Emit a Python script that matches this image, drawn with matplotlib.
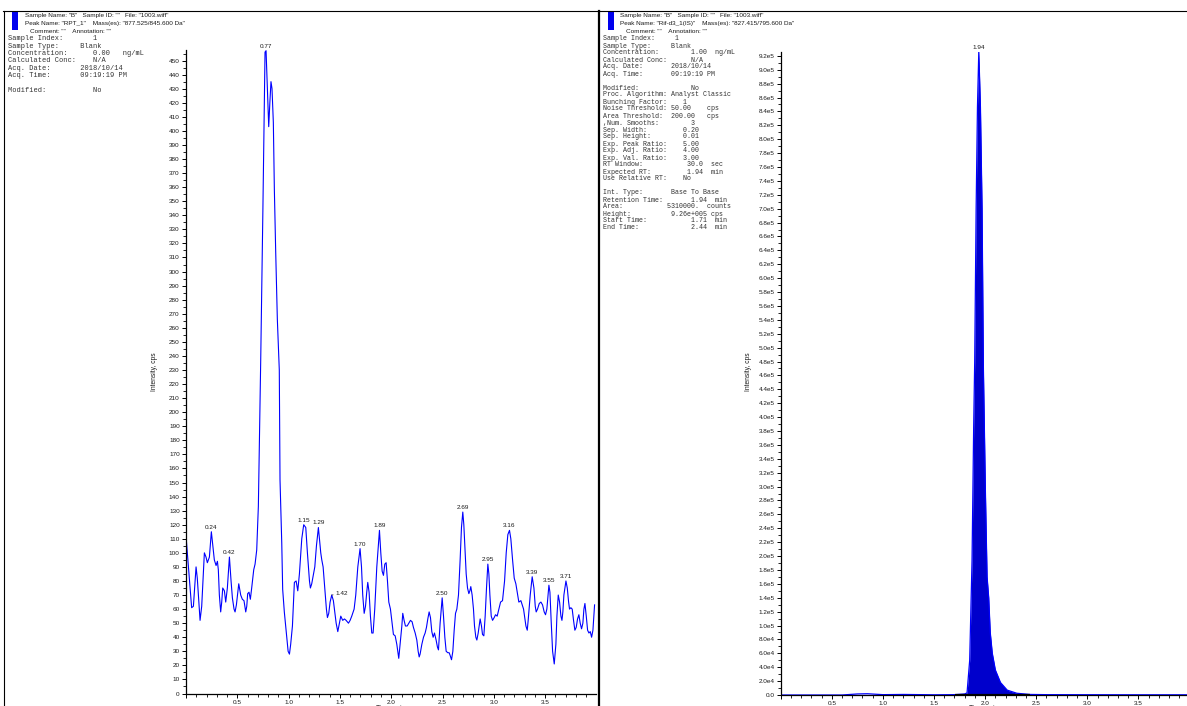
import numpy as np
import matplotlib
matplotlib.use("Agg")
import matplotlib.pyplot as plt
from matplotlib.ticker import MultipleLocator, FuncFormatter
from matplotlib.lines import Line2D
from matplotlib.patches import Rectangle

# ── Data ───────────────────────────────────────────────────────────────
# Left panel: RPT_1 (noisy blank trace)
left_time = [
    0.000, 0.033, 0.055, 0.072, 0.098, 0.110, 0.137, 0.153, 0.179, 0.195,
    0.208, 0.228, 0.247, 0.276, 0.293, 0.306, 0.315, 0.325, 0.338, 0.348,
    0.358, 0.374, 0.387, 0.403, 0.423, 0.439, 0.452, 0.468, 0.478, 0.491,
    0.514, 0.533, 0.549, 0.565, 0.582, 0.592, 0.601, 0.614, 0.627, 0.640,
    0.660, 0.673, 0.689, 0.705, 0.728, 0.749, 0.770, 0.780, 0.793, 0.806,
    0.817, 0.828, 0.838, 0.851, 0.861, 0.874, 0.890, 0.909, 0.916, 0.933,
    0.942, 0.958, 0.975, 0.985, 0.995, 1.008, 1.020, 1.037, 1.047, 1.056,
    1.073, 1.089, 1.105, 1.128, 1.147, 1.167, 1.183, 1.203, 1.212, 1.225,
    1.242, 1.255, 1.271, 1.290, 1.300, 1.313, 1.323, 1.336, 1.352, 1.368,
    1.378, 1.391, 1.404, 1.420, 1.436, 1.446, 1.463, 1.479, 1.495, 1.508,
    1.527, 1.544, 1.560, 1.583, 1.599, 1.615, 1.638, 1.654, 1.674, 1.696,
    1.710, 1.722, 1.736, 1.749, 1.761, 1.771, 1.784, 1.797, 1.810, 1.823,
    1.839, 1.859, 1.885, 1.898, 1.911, 1.924, 1.937, 1.950, 1.963, 1.976,
    1.992, 2.008, 2.021, 2.038, 2.054, 2.073, 2.086, 2.103, 2.112, 2.125,
    2.138, 2.155, 2.171, 2.187, 2.203, 2.216, 2.233, 2.249, 2.262, 2.272,
    2.281, 2.298, 2.314, 2.330, 2.343, 2.356, 2.369, 2.382, 2.395, 2.408,
    2.421, 2.437, 2.450, 2.460, 2.476, 2.496, 2.509, 2.522, 2.535, 2.551,
    2.564, 2.574, 2.587, 2.600, 2.613, 2.626, 2.639, 2.655, 2.671, 2.684,
    2.697, 2.707, 2.720, 2.730, 2.743, 2.756, 2.766, 2.775, 2.788, 2.801,
    2.811, 2.824, 2.834, 2.847, 2.857, 2.866, 2.879, 2.889, 2.902, 2.915,
    2.928, 2.941, 2.951, 2.961, 2.974, 2.987, 3.003, 3.016, 3.032, 3.048,
    3.065, 3.084, 3.104, 3.120, 3.136, 3.152, 3.165, 3.182, 3.198, 3.214,
    3.227, 3.243, 3.263, 3.289, 3.312, 3.325, 3.334, 3.354, 3.373, 3.390,
    3.403, 3.412, 3.425, 3.442, 3.458, 3.474, 3.490, 3.503, 3.516, 3.536,
    3.546, 3.559, 3.572, 3.588, 3.604, 3.614, 3.627, 3.640, 3.653, 3.663,
    3.672, 3.682, 3.692, 3.702, 3.715, 3.728, 3.737, 3.750, 3.763, 3.776,
    3.789, 3.802, 3.815, 3.828, 3.841, 3.854, 3.867, 3.877, 3.887, 3.900,
    3.913, 3.926, 3.939, 3.952, 3.965, 3.981,
]
left_intensity = [
    112, 81, 61, 62, 90, 82, 52, 62, 100, 97,
    93, 97, 115, 95, 91, 94, 88, 70, 58, 65,
    75, 73, 65, 75, 97, 80, 68, 60, 58, 63,
    78, 70, 67, 66, 58, 62, 71, 72, 67, 75,
    88, 92, 102, 133, 237, 343, 456, 457, 430, 403,
    420, 435, 430, 406, 358, 314, 266, 230, 152, 107,
    74, 58, 45, 38, 30, 28, 35, 48, 65, 79,
    80, 73, 85, 110, 120, 118, 100, 80, 75, 78,
    85, 90, 105, 118, 110, 100, 95, 90, 75, 60,
    54, 57, 65, 70, 66, 60, 50, 44, 50, 55,
    52, 53, 52, 50, 52, 55, 60, 70, 90, 103,
    90, 70, 57, 62, 72, 79, 72, 55, 43, 43,
    60, 90, 116, 100, 87, 84, 92, 93, 80, 65,
    60, 50, 42, 41, 35, 25, 35, 48, 57, 52,
    48, 48, 50, 52, 51, 47, 43, 38, 30, 26,
    28, 35, 40, 43, 47, 53, 58, 54, 44, 40,
    43, 38, 33, 31, 50, 68, 55, 40, 30, 29,
    29, 27, 24, 30, 45, 57, 60, 70, 95, 118,
    129, 120, 100, 85, 75, 71, 73, 76, 70, 60,
    48, 40, 38, 43, 48, 53, 48, 42, 41, 55,
    75, 92, 85, 70, 55, 52, 54, 56, 55, 60,
    65, 66, 80, 100, 113, 116, 110, 95, 82, 78,
    72, 65, 66, 60, 48, 45, 52, 70, 83, 75,
    62, 58, 60, 64, 65, 63, 58, 56, 60, 77,
    72, 50, 30, 21, 35, 55, 70, 65, 55, 52,
    58, 70, 75, 80, 75, 65, 60, 61, 60, 52,
    45, 47, 53, 56, 50, 46, 50, 60, 64, 55,
    45, 43, 44, 40, 45, 63,
]
left_peak_labels = ["0.24", "0.42", "0.77", "1.15", "1.29", "1.42", "1.70", "1.89",
                    "2.50", "2.69", "2.95", "3.16", "3.39", "3.55", "3.71"]

# Right panel: Rif-d3_1(IS)
right_time = [0.00, 0.60, 0.75, 0.85, 1.00, 1.20, 1.50, 1.70, 1.80, 1.823,
              1.849, 1.872, 1.888, 1.898, 1.912, 1.925, 1.938, 1.954, 1.970, 1.983,
              2.003, 2.019, 2.035, 2.050, 2.070, 2.100, 2.150, 2.216, 2.310, 2.440,
              2.600, 3.000, 3.500, 3.975]
right_intensity = [0, 0, 1500, 1800, 500, 800, 300, 500, 1500, 3000,
                   5.0e4, 1.94e5, 3.86e5, 4.8e5, 7.0e5, 8.46e5, 9.26e5, 8.46e5, 7.0e5, 4.7e5,
                   2.9e5, 1.7e5, 1.4e5, 9.0e4, 6.0e4, 3.6e4, 1.8e4, 7.0e3, 2.5e3, 800,
                   500, 400, 300, 300]
right_peak_label = "1.94"
right_start, right_end = 1.71, 2.44

# Header / info texts
left_header = ['Sample Name: "B"   Sample ID: ""   File: "1003.wiff"',
               'Peak Name: "RPT_1"    Mass(es): "877.525/845.600 Da"',
               'Comment: ""    Annotation: ""']
right_header = ['Sample Name: "B"   Sample ID: ""   File: "1003.wiff"',
                'Peak Name: "Rif-d3_1(IS)"    Mass(es): "827.415/795.600 Da"',
                'Comment: ""    Annotation: ""']
left_info = [
    "Sample Index:       1",
    "Sample Type:     Blank",
    "Concentration:      0.00   ng/mL",
    "Calculated Conc:    N/A",
    "Acq. Date:       2018/10/14",
    "Acq. Time:       09:19:19 PM",
    "",
    "Modified:           No",
]
right_info = [
    "Sample Index:     1",
    "Sample Type:     Blank",
    "Concentration:        1.00  ng/mL",
    "Calculated Conc:      N/A",
    "Acq. Date:       2018/10/14",
    "Acq. Time:       09:19:19 PM",
    "",
    "Modified:             No",
    "Proc. Algorithm: Analyst Classic",
    "Bunching Factor:    1",
    "Noise Threshold: 50.00    cps",
    "Area Threshold:  200.00   cps",
    ",Num. Smooths:        3",
    "Sep. Width:         0.20",
    "Sep. Height:        0.01",
    "Exp. Peak Ratio:    5.00",
    "Exp. Adj. Ratio:    4.00",
    "Exp. Val. Ratio:    3.00",
    "RT Window:           30.0  sec",
    "Expected RT:         1.94  min",
    "Use Relative RT:    No",
    "",
    "Int. Type:       Base To Base",
    "Retention Time:       1.94  min",
    "Area:           5310000.  counts",
    "Height:          9.26e+005 cps",
    "Start Time:           1.71  min",
    "End Time:             2.44  min",
]

# ── Layout ─────────────────────────────────────────────────────────────
W, H = 1187, 706
SANS = "Liberation Sans"
MONO = "Liberation Mono"
BLUE = "#0000ff"
FILL = "#0000cc"
TXT = "#1a1a1a"
SMALL = 4.6

fig = plt.figure(figsize=(W / 100, H / 100), dpi=100)


def fx(x):
    return x / W


def fy(y):
    return 1 - y / H


def style_axes(ax):
    for s in ("top", "right"):
        ax.spines[s].set_visible(False)
    for s in ("left", "bottom"):
        ax.spines[s].set_linewidth(0.9)
        ax.spines[s].set_color("black")
    ax.xaxis.set_major_locator(MultipleLocator(0.5))
    ax.xaxis.set_minor_locator(MultipleLocator(0.1))
    ax.xaxis.set_major_formatter(FuncFormatter(lambda v, p: "" if v == 0 else f"{v:.1f}"))
    ax.tick_params(axis="both", which="major", length=3, width=0.7, labelsize=SMALL,
                   colors="black", labelcolor=TXT)
    ax.tick_params(axis="both", which="minor", length=2, width=0.6)
    ax.tick_params(axis="x", which="major", pad=1.5)
    ax.tick_params(axis="y", which="major", pad=1.5)
    for lab in ax.get_xticklabels() + ax.get_yticklabels():
        lab.set_family(SANS)


def draw_header(x0, lines, info, info_size, step):
    fig.patches.append(Rectangle((fx(x0 + 8), fy(30)), 6 / W, 18 / H, transform=fig.transFigure,
                                 facecolor="#0000ee", edgecolor="none"))
    fig.text(fx(x0 + 21), fy(15.5), lines[0], family=SANS, fontsize=SMALL, color=TXT, va="center")
    fig.text(fx(x0 + 21), fy(23.5), lines[1], family=SANS, fontsize=SMALL, color=TXT, va="center")
    fig.text(fx(x0 + 26), fy(31.5), lines[2], family=SANS, fontsize=SMALL, color=TXT, va="center")
    for i, line in enumerate(info):
        fig.text(fx(x0 + 3.5), fy(39 + i * step), line, family=MONO, fontsize=info_size,
                 color="#333333", va="center")


# frame lines
fig.add_artist(Line2D([fx(3), fx(W)], [fy(10.5), fy(10.5)], color="black", lw=0.8))
fig.add_artist(Line2D([fx(3.5), fx(3.5)], [fy(10.5), 0], color="black", lw=0.8))
fig.add_artist(Line2D([fx(598.5), fx(598.5)], [fy(10.5), 0], color="black", lw=1.6))

draw_header(4, left_header, left_info, 5.05, 7.3)
draw_header(599.5, right_header, right_info, 4.82, 7.0)

# ── Left chromatogram ─────────────────────────────────────────────────
axL = fig.add_axes([fx(186), 12.5 / H, 409.5 / W, 643.5 / H])
lt = np.array(left_time)
li = np.array(left_intensity)
axL.plot(lt, li, color=BLUE, lw=0.8)
axL.set_xlim(0, 3.99)
axL.set_ylim(0, 457.5)
axL.yaxis.set_major_locator(MultipleLocator(10))
axL.yaxis.set_minor_locator(MultipleLocator(5))
axL.yaxis.set_major_formatter(FuncFormatter(lambda v, p: f"{v:.0f}"))
style_axes(axL)

for lab in left_peak_labels:
    t0 = float(lab)
    m = (lt >= t0 - 0.02) & (lt <= t0 + 0.02)
    idx = np.where(m)[0][np.argmax(li[m])]
    if lab == "1.42":
        axL.annotate(lab, (lt[idx], li[idx]), xytext=(3, 1), textcoords="offset points",
                     ha="left", va="center", fontsize=SMALL, family=SANS, color=TXT,
                     arrowprops=dict(arrowstyle="-", lw=0.5, color=TXT, shrinkA=0, shrinkB=0),
                     annotation_clip=False)
    else:
        axL.annotate(lab, (lt[idx], li[idx]), xytext=(0, 1.5), textcoords="offset points",
                     ha="center", va="bottom", fontsize=SMALL, family=SANS, color=TXT,
                     annotation_clip=False)

# ── Right chromatogram ────────────────────────────────────────────────
axR = fig.add_axes([fx(780.7), 11 / H, (W - 780.7) / W, 643 / H])
rt = np.array(right_time)
ri = np.array(right_intensity)
mask = (rt >= right_start) & (rt <= right_end)
axR.fill_between(rt, ri, 0, where=mask, color=FILL, lw=0, interpolate=True)
axR.plot(rt, ri, color=BLUE, lw=0.9)
axR.plot([right_start, right_end], [0, 0], color="black", lw=1.6, solid_capstyle="butt")
axR.set_xlim(0, 3.975)
axR.set_ylim(0, 9.255e5)
axR.yaxis.set_major_locator(MultipleLocator(2e4))
axR.yaxis.set_minor_locator(MultipleLocator(1e4))


def sci(v, p):
    if v == 0:
        return "0.0"
    e = int(np.floor(np.log10(abs(v)) + 1e-9))
    return f"{v / 10 ** e:.1f}e{e}"


axR.yaxis.set_major_formatter(FuncFormatter(sci))
style_axes(axR)
ip = int(np.argmax(ri))
axR.annotate(right_peak_label, (rt[ip], ri[ip]), xytext=(0, 1.5), textcoords="offset points",
             ha="center", va="bottom", fontsize=SMALL, family=SANS, color=TXT,
             annotation_clip=False)

# axis titles (x label cut off at bottom edge as in the original)
for xc, yl in ((155, "Intensity, cps"), (748, "Intensity, cps")):
    fig.text(fx(xc), fy(372), yl, rotation=90, family=SANS, fontsize=4.8, color=TXT,
             ha="center", va="center")
for xc in (390.5, 984):
    fig.text(fx(xc), fy(704.5), "Time, min", family=SANS, fontsize=4.8, color=TXT,
             ha="center", va="top")

fig.savefig("out.png", dpi=100)
